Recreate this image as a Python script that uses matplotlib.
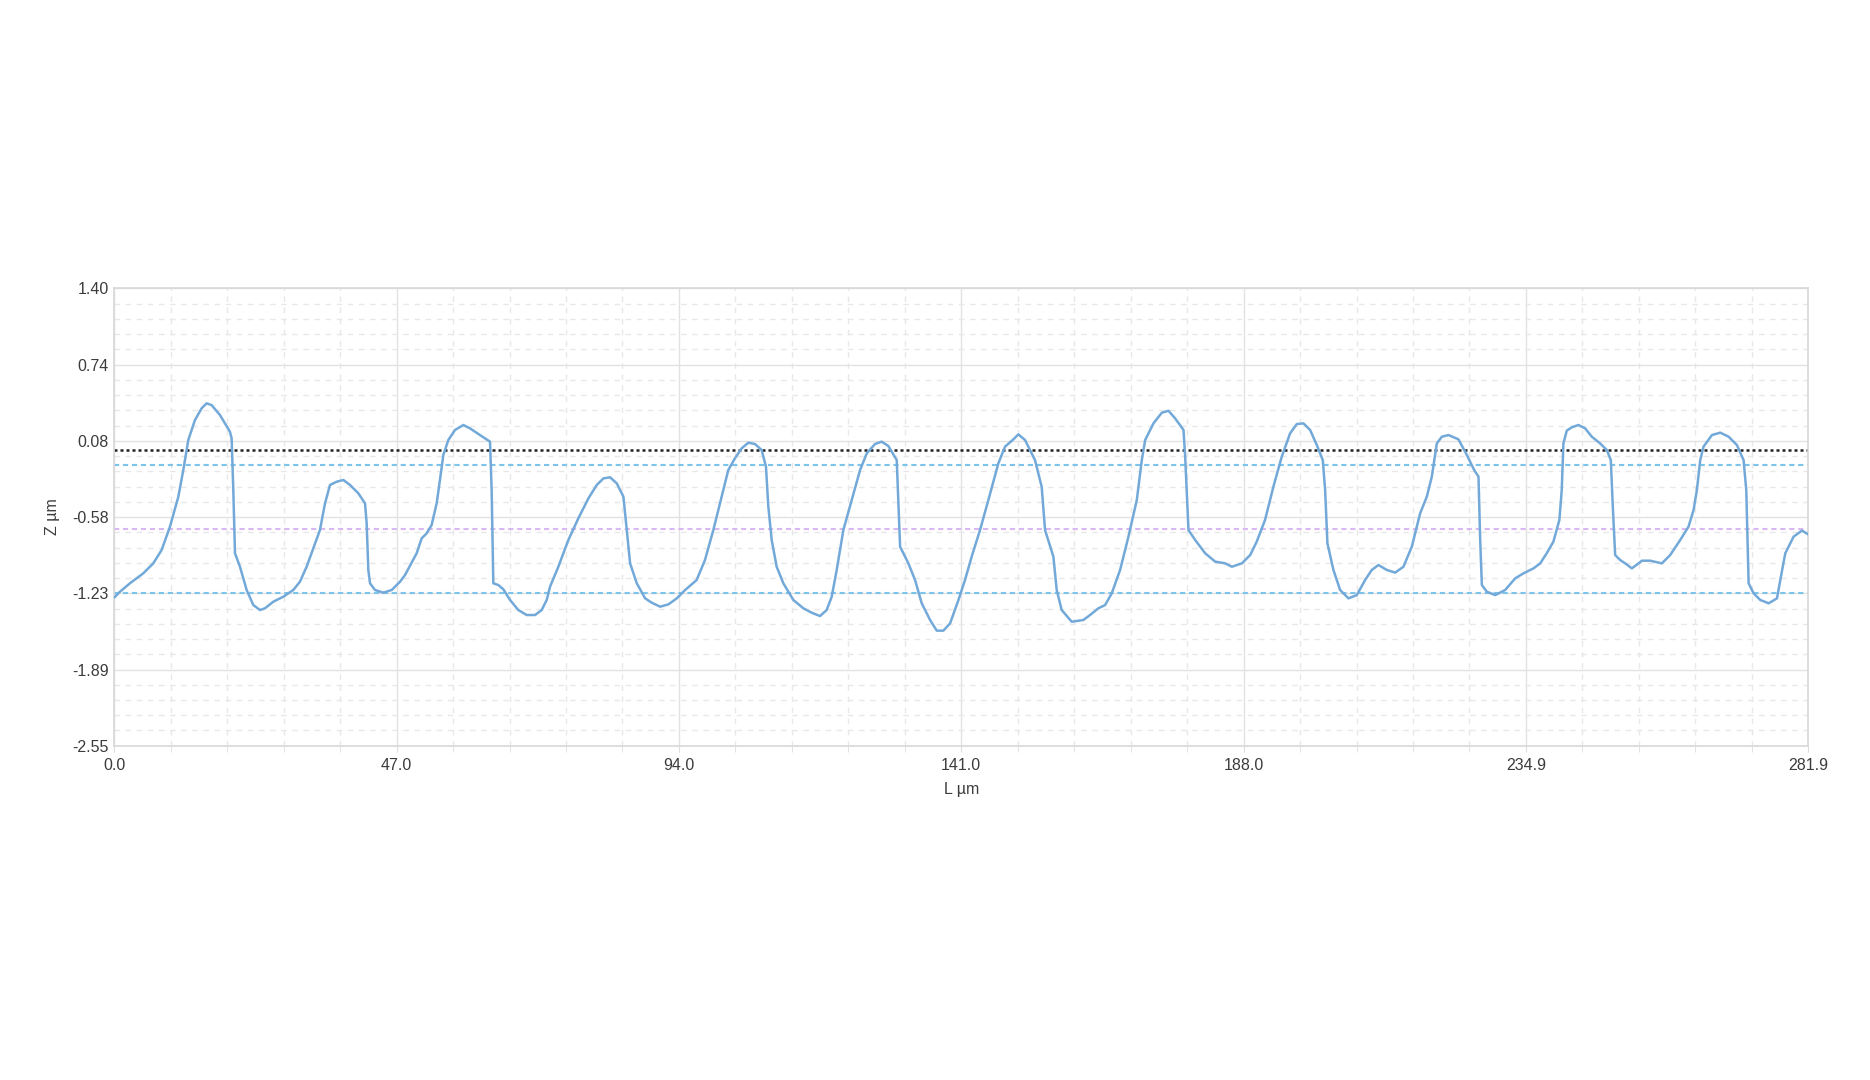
import matplotlib
matplotlib.use("Agg")
import matplotlib.pyplot as plt
import numpy as np

# Profile trace (L in µm, Z in µm)
L_um = [0.0, 0.95, 2.61, 4.83, 6.49, 7.88, 9.27, 10.66, 11.49, 12.32, 13.43, 14.54, 15.37, 16.2,
        17.59, 19.25, 19.53, 19.81, 20.09, 20.92, 22.03, 23.14, 24.25, 25.08, 26.47, 28.13, 29.79,
        30.90, 32.01, 33.12, 34.23, 35.07, 35.90, 37.01, 38.12, 39.23, 40.62, 41.73, 42.0, 42.28,
        42.56, 43.39, 44.78, 46.17, 47.56, 48.38, 50.32, 51.15, 51.98, 52.81, 53.65, 54.20, 54.76,
        55.59, 56.70, 58.09, 59.20, 60.86, 62.53, 62.80, 63.08, 63.91, 64.75, 65.86, 67.24, 68.63,
        70.02, 71.13, 71.96, 72.52, 73.90, 75.57, 77.23, 78.90, 80.29, 81.40, 82.51, 83.62, 84.73,
        85.29, 85.84, 86.95, 88.34, 89.45, 90.84, 92.22, 93.61, 95.0, 96.91, 98.30, 99.69, 101.08,
        102.18, 103.29, 104.40, 105.51, 106.62, 107.73, 108.45, 108.84, 109.40, 110.23, 111.34,
        113.0, 114.67, 116.05, 117.44, 118.55, 119.39, 120.22, 121.33, 122.72, 124.11, 125.22,
        126.60, 127.71, 128.82, 130.21, 130.77, 132.15, 133.26, 134.37, 135.76, 136.87, 137.98,
        139.09, 140.48, 141.57, 142.68, 144.07, 145.46, 147.12, 148.23, 149.62, 150.45, 151.56,
        153.22, 154.33, 154.89, 156.28, 156.83, 157.66, 159.33, 161.27, 162.38, 163.77, 164.88,
        165.99, 167.38, 168.77, 170.16, 170.99, 171.55, 172.93, 174.32, 175.43, 176.54, 177.93,
        178.21, 178.76, 179.87, 181.54, 183.20, 184.87, 185.98, 187.64, 189.03, 190.11, 191.50,
        192.89, 194.28, 195.67, 196.78, 197.89, 199.0, 200.11, 201.11, 201.50, 201.88, 202.88,
        203.99, 205.38, 206.77, 208.15, 209.26, 210.37, 211.76, 213.15, 214.53, 215.92, 217.31,
        218.42, 219.25, 220.09, 220.92, 222.03, 223.69, 225.08, 226.30, 227.02, 227.30, 227.58,
        228.41, 229.80, 231.46, 233.13, 234.51, 236.18, 237.29, 238.37, 239.48, 240.48, 240.87,
        241.15, 241.71, 242.54, 243.65, 244.76, 245.87, 247.26, 248.37, 249.04, 249.37, 249.76,
        250.59, 251.43, 252.54, 253.65, 254.20, 255.59, 257.53, 258.92, 260.59, 261.97, 262.81,
        263.36, 263.92, 264.47, 265.86, 267.25, 268.64, 270.02, 271.13, 271.58, 271.97, 272.80,
        273.91, 275.30, 276.69, 277.24, 278.07, 279.46, 280.85, 281.9]
Z_um = [-1.27, -1.22, -1.147, -1.061, -0.975, -0.86, -0.658, -0.40, -0.169, 0.090, 0.263, 0.364,
        0.407, 0.392, 0.306, 0.162, 0.105, -0.342, -0.888, -1.004, -1.205, -1.335, -1.378, -1.363,
        -1.306, -1.263, -1.205, -1.133, -1.004, -0.845, -0.687, -0.457, -0.298, -0.270, -0.255,
        -0.298, -0.370, -0.457, -0.629, -1.032, -1.147, -1.205, -1.228, -1.205, -1.133, -1.076,
        -0.888, -0.759, -0.716, -0.644, -0.457, -0.255, -0.039, 0.090, 0.177, 0.220, 0.191, 0.133,
        0.076, -0.342, -1.147, -1.162, -1.199, -1.291, -1.378, -1.421, -1.421, -1.378, -1.291,
        -1.176, -1.004, -0.773, -0.586, -0.414, -0.298, -0.241, -0.232, -0.284, -0.399, -0.687,
        -0.975, -1.147, -1.277, -1.315, -1.349, -1.329, -1.277, -1.205, -1.119, -0.946, -0.687,
        -0.399, -0.169, -0.068, 0.018, 0.067, 0.056, 0.004, -0.140, -0.485, -0.773, -1.004, -1.147,
        -1.291, -1.363, -1.401, -1.430, -1.378, -1.263, -1.032, -0.687, -0.428, -0.169, -0.025,
        0.056, 0.076, 0.038, -0.083, -0.831, -0.975, -1.119, -1.320, -1.464, -1.556, -1.556, -1.493,
        -1.291, -1.119, -0.917, -0.687, -0.428, -0.111, 0.033, 0.096, 0.139, 0.090, -0.083, -0.313,
        -0.687, -0.917, -1.205, -1.378, -1.479, -1.464, -1.421, -1.363, -1.335, -1.234, -1.032,
        -0.744, -0.428, -0.083, 0.090, 0.234, 0.326, 0.343, 0.277, 0.177, -0.054, -0.687, -0.773,
        -0.888, -0.960, -0.975, -1.004, -0.975, -0.903, -0.788, -0.600, -0.313, -0.054, 0.148,
        0.228, 0.234, 0.177, 0.047, -0.083, -0.342, -0.802, -1.032, -1.205, -1.277, -1.249, -1.119,
        -1.032, -0.989, -1.032, -1.055, -1.004, -0.831, -0.543, -0.399, -0.226, 0.061, 0.119, 0.133,
        0.096, -0.039, -0.169, -0.226, -0.773, -1.162, -1.220, -1.249, -1.205, -1.104, -1.061,
        -1.018, -0.975, -0.888, -0.788, -0.600, -0.342, 0.061, 0.171, 0.200, 0.220, 0.191, 0.119,
        0.061, 0.004, -0.083, -0.485, -0.903, -0.946, -0.975, -1.018, -0.975, -0.952, -0.952,
        -0.975, -0.903, -0.773, -0.658, -0.514, -0.342, -0.083, 0.033, 0.133, 0.154, 0.119, 0.047,
        -0.083, -0.342, -1.147, -1.234, -1.291, -1.320, -1.277, -1.119, -0.888, -0.744, -0.692,
        -0.725]

# Reference levels
ref_black = 0.0
ref_blue_upper = -0.125
ref_purple = -0.68
ref_blue_lower = -1.235

# Axis ticks
x_ticks = [0.0, 47.0, 94.0, 141.0, 188.0, 234.9, 281.9]
x_tick_labels = ["0.0", "47.0", "94.0", "141.0", "188.0", "234.9", "281.9"]
y_ticks = [1.40, 0.74, 0.08, -0.58, -1.23, -1.89, -2.55]
y_tick_labels = ["1.40", "0.74", "0.08", "-0.58", "-1.23", "-1.89", "-2.55"]

plt.rcParams['font.family'] = ['Liberation Sans', 'DejaVu Sans']

fig = plt.figure(figsize=(18.7, 10.8), dpi=100)
ax = fig.add_axes([0.0611, 0.3095, 0.9059, 0.4235])

xmin, xmax = 0.0, 281.9
ymin, ymax = -2.55, 1.40
ax.set_xlim(xmin, xmax)
ax.set_ylim(ymin, ymax)

xmaj = np.linspace(xmin, xmax, 7)
ymaj = np.linspace(ymin, ymax, 7)
xmin_ticks = np.linspace(xmin, xmax, 31)
ymin_ticks = np.linspace(ymin, ymax, 31)

ax.set_xticks(xmaj)
ax.set_xticklabels(x_tick_labels)
ax.set_yticks(ymaj[::-1])
ax.set_yticklabels(y_tick_labels)
ax.set_xticks(xmin_ticks, minor=True)
ax.set_yticks(ymin_ticks, minor=True)

ax.grid(True, which='major', color='#e2e2e2', linewidth=1.0, linestyle='-')
ax.grid(True, which='minor', color='#e8e8e8', linewidth=1.0, linestyle=(0, (4, 4)))
ax.set_axisbelow(True)

for s in ax.spines.values():
    s.set_color('#d8d8d8')
    s.set_linewidth(1.2)

ax.tick_params(axis='both', which='both', length=0, colors='#d8d8d8',
               labelcolor='#3c3c3c', labelsize=11.5)
ax.tick_params(axis='x', which='minor', length=4, direction='out', color='#dddddd')
ax.tick_params(axis='x', which='major', length=4, direction='out', color='#dddddd', pad=5)
ax.tick_params(axis='y', which='major', pad=4)

ax.axhline(ref_blue_lower, color='#7cc4ea', linewidth=1.5, linestyle=(0, (2.5, 1.8)), zorder=2)
ax.axhline(ref_purple, color='#d9b8f2', linewidth=1.5, linestyle=(0, (2.5, 1.8)), zorder=2)
ax.axhline(ref_blue_upper, color='#7cc4ea', linewidth=1.5, linestyle=(0, (2.5, 1.8)), zorder=2)
ax.axhline(ref_black, color='#222222', linewidth=1.8, linestyle=(0, (1.2, 1.2)), zorder=2)

ax.plot(L_um, Z_um, color='#72a9d9', linewidth=1.8, zorder=3,
        solid_joinstyle='round', solid_capstyle='round')

ax.set_xlabel("L µm", fontsize=11.5, color='#3c3c3c', labelpad=6)
ax.set_ylabel("Z µm", fontsize=11.5, color='#3c3c3c', labelpad=9)

fig.savefig("out.png", dpi=100, facecolor='white')
